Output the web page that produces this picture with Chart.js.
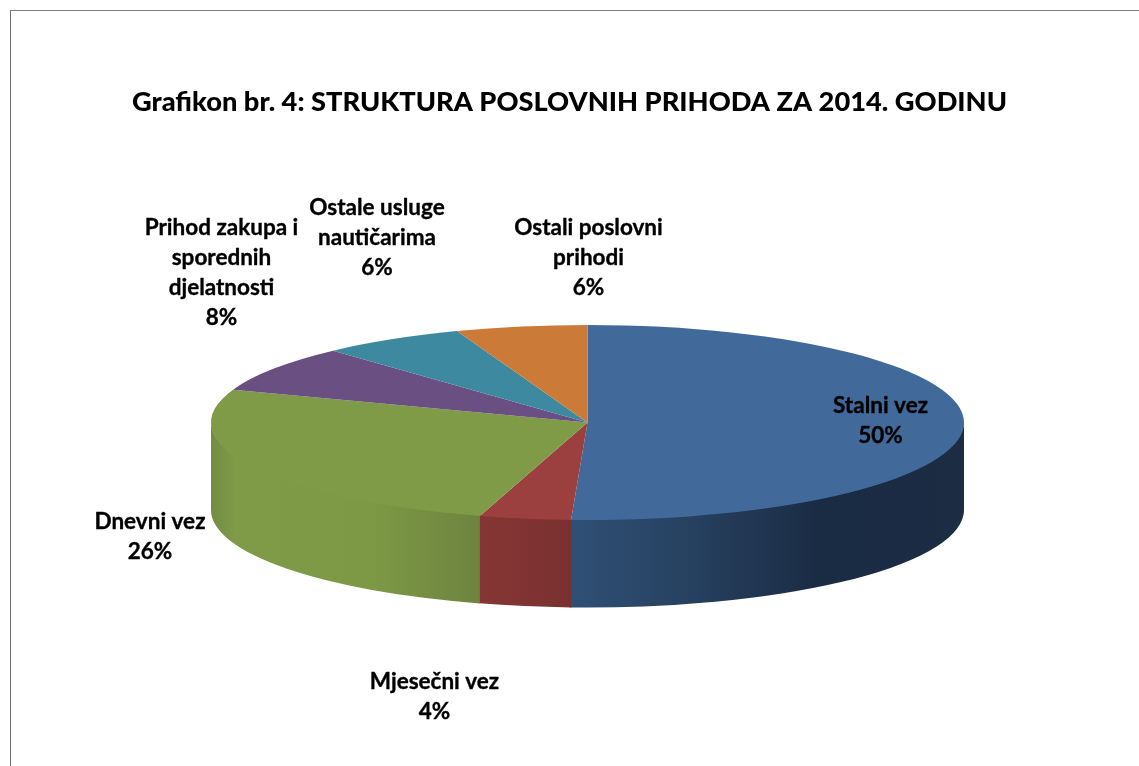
<!DOCTYPE html>
<html>
<head>
<meta charset="utf-8">
<style>
html,body{margin:0;padding:0;background:#fff;overflow:hidden}
#frame{position:absolute;left:10px;top:10px;right:0;bottom:0;border-left:1px solid #6f6f6f;border-top:1px solid #7f7f7f}
canvas{position:absolute;left:0;top:0}
</style>
<script src="https://cdn.jsdelivr.net/npm/chart.js@4"></script>
</head>
<body>
<div id="frame"></div>
<canvas id="c" width="1139" height="766"></canvas>
<script>
const titleText = 'Grafikon br. 4: STRUKTURA POSLOVNIH PRIHODA ZA 2014. GODINU';
const categories = ['Stalni vez','Mjesečni vez','Dnevni vez','Prihod zakupa i sporednih djelatnosti','Ostale usluge nautičarima','Ostali poslovni prihodi'];
const shares = [50.7, 3.92, 25.86, 7.72, 6.17, 5.64];
const percentLabels = ['50%','4%','26%','8%','6%','6%'];

const labelLines = [
  ['Stalni vez'],
  ['Mjesečni vez'],
  ['Dnevni vez'],
  ['Prihod zakupa i','sporednih','djelatnosti'],
  ['Ostale usluge','nautičarima'],
  ['Ostali poslovni','prihodi']
];
const labelX = [880.5, 434.5, 150, 221.5, 377, 588.5];
const labelTopY = [406, 682, 522, 228, 208, 228];
const labelStep = 30;

const topColors = ['#416A9B','#9B3F3F','#7F9B48','#6A5082','#3D8AA0','#CB7A38'];
const wallStops = [
  [[571,'#2f5075'],[700,'#263f5e'],[820,'#1a2c44'],[964,'#1b2c43']],
  [[480,'#853634'],[571,'#793130']],
  [[211,'#728c42'],[235,'#7f9b48'],[370,'#7d9946'],[480,'#6e843e']],
  [],[],[]
];
const pie = {cx:587.5, cy:422.5, rx:376.5, ry:97.5, depth:87.5};

const pie3d = {
  id:'pie3d',
  beforeDatasetsDraw(chart){
    const ctx = chart.ctx, arcs = chart.getDatasetMeta(0).data;
    ctx.save();
    arcs.forEach((arc,i)=>{
      const a0 = Math.max(arc.startAngle,0), a1 = Math.min(arc.endAngle+0.003,Math.PI);
      if(a1<=a0 || !wallStops[i].length) return;
      const g = ctx.createLinearGradient(pie.cx-pie.rx,0,pie.cx+pie.rx,0);
      wallStops[i].forEach(s=>g.addColorStop((s[0]-(pie.cx-pie.rx))/(2*pie.rx),s[1]));
      ctx.fillStyle = g;
      ctx.beginPath();
      ctx.ellipse(pie.cx,pie.cy-1,pie.rx,pie.ry,0,a0,a1,false);
      ctx.ellipse(pie.cx,pie.cy+pie.depth,pie.rx,pie.ry,0,a1,a0,true);
      ctx.closePath();
      ctx.fill();
    });
    ctx.restore();
    const a = arcs[0];
    ctx.save();
    ctx.translate(pie.cx,pie.cy);
    ctx.scale(pie.rx/a.outerRadius,pie.ry/a.outerRadius);
    ctx.translate(-a.x,-a.y);
  },
  afterDatasetsDraw(chart){
    const ctx = chart.ctx;
    ctx.restore();
    ctx.save();
    ctx.fillStyle = '#000';
    ctx.strokeStyle = '#000';
    ctx.lineWidth = 0.35;
    ctx.lineJoin = 'round';
    ctx.font = 'bold 22.5px Lato';
    ctx.textAlign = 'center';
    ctx.textBaseline = 'middle';
    categories.forEach((c,i)=>{
      const lines = labelLines[i].concat(percentLabels[i]);
      lines.forEach((t,k)=>{
        ctx.fillText(t,labelX[i],labelTopY[i]+k*labelStep);
        ctx.strokeText(t,labelX[i],labelTopY[i]+k*labelStep);
      });
    });
    ctx.restore();
  }
};

new Chart(document.getElementById('c'),{
  type:'pie',
  data:{labels:categories,datasets:[{data:shares,backgroundColor:topColors,borderWidth:0,clip:false}]},
  options:{
    responsive:false,
    animation:false,
    devicePixelRatio:1,
    layout:{padding:{top:0,bottom:20,left:20,right:20}},
    plugins:{
      legend:{display:false},
      tooltip:{enabled:false},
      title:{display:true,text:titleText,color:'#000',font:{family:'Lato',size:27.25,weight:900},padding:{top:86,bottom:20}}
    }
  },
  plugins:[pie3d]
});
</script>
</body>
</html>
